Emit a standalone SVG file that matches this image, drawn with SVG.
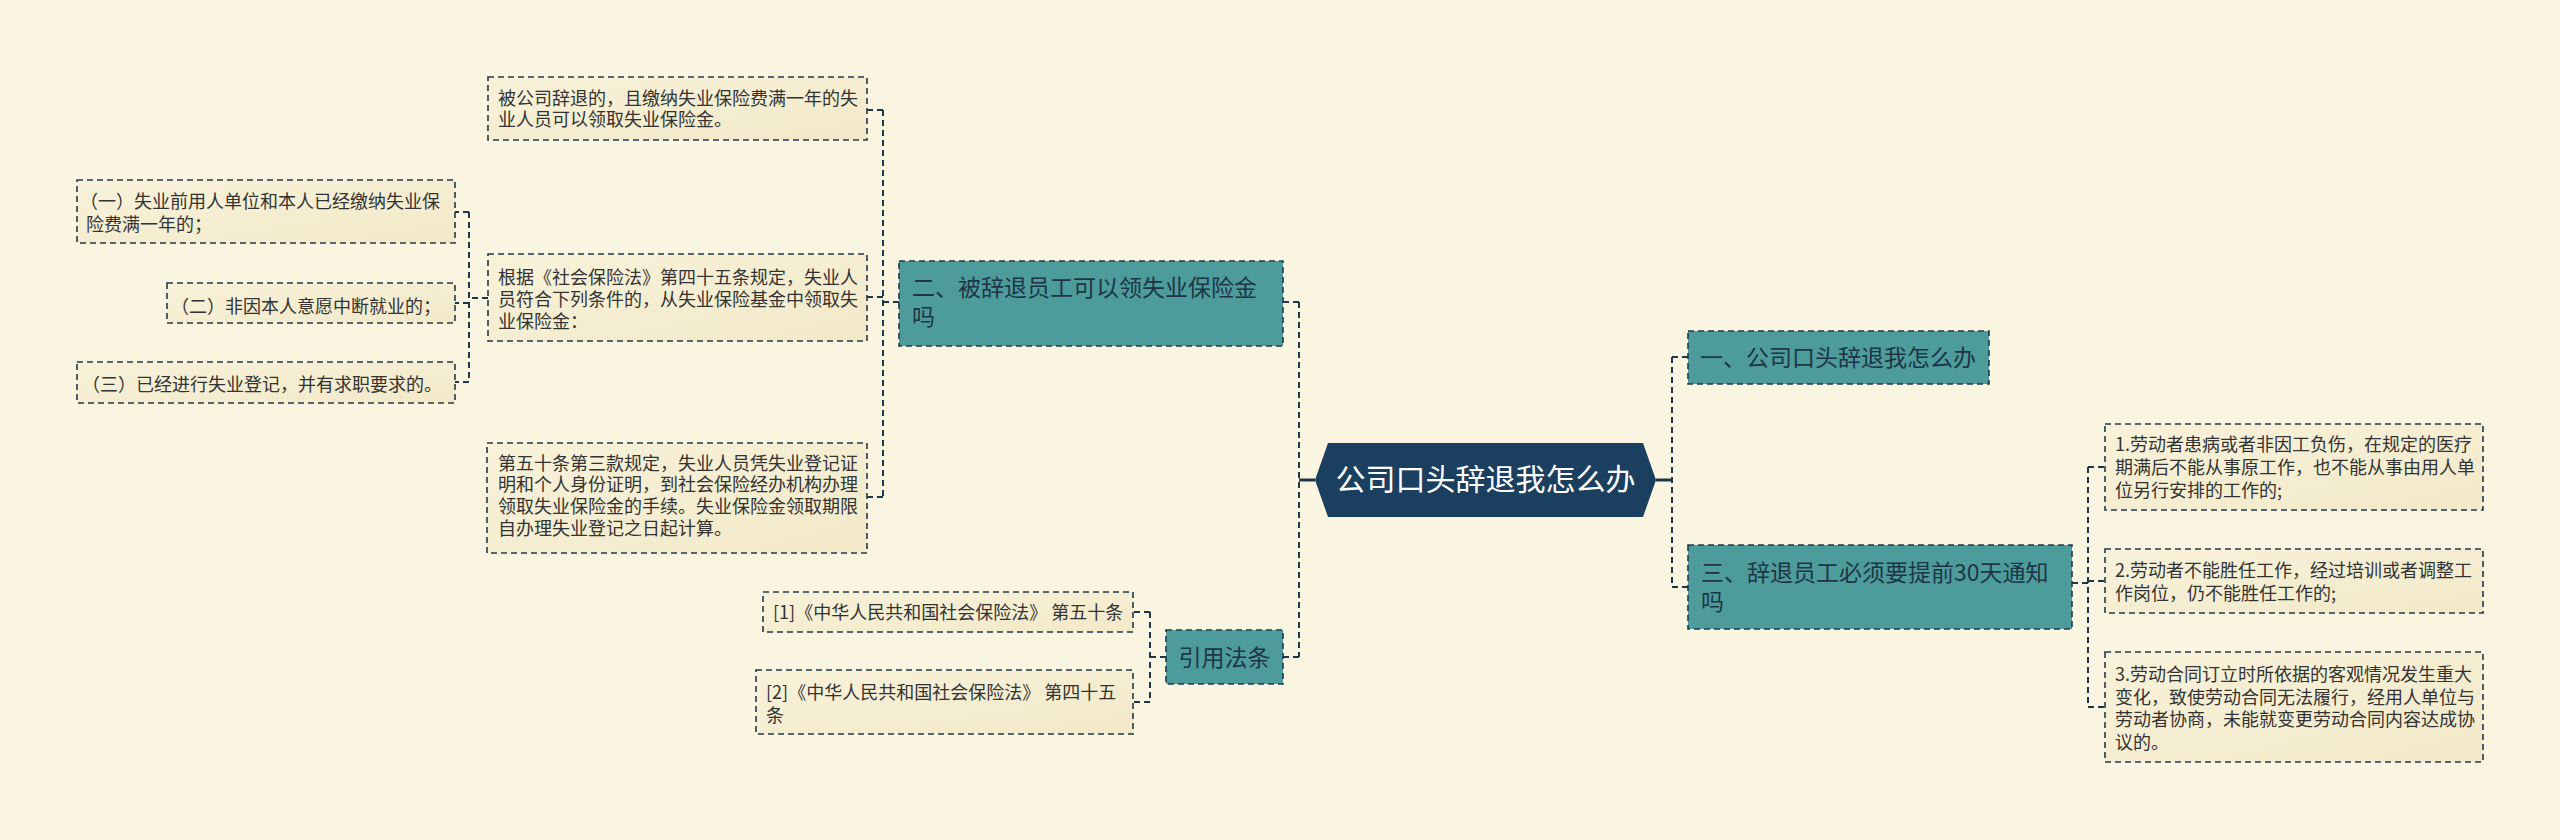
<svg xmlns="http://www.w3.org/2000/svg" width="2560" height="840" viewBox="0 0 2560 840">
<defs>
<linearGradient id="leafFill" x1="0" y1="0" x2="1" y2="1">
<stop offset="0" stop-color="#f8f2da"/>
<stop offset="1" stop-color="#f2e9c8"/>
</linearGradient>
<style>
.leaf{fill:url(#leafFill);stroke:#24384a;stroke-width:1.6;stroke-dasharray:6 4}
.topic{fill:#4d9b9b;stroke:#1f3a4d;stroke-width:1.6;stroke-dasharray:6 4}
.conn{fill:none;stroke:#1f3548;stroke-width:2;stroke-dasharray:6 4}
.solid{fill:none;stroke:#1f3548;stroke-width:3}
.lt{font-family:"Microsoft YaHei","Noto Sans CJK SC",sans-serif;font-size:18px;fill:#333}
.tt{font-family:"Microsoft YaHei","Noto Sans CJK SC",sans-serif;font-size:23px;fill:#1d3546}
.root{font-family:"Microsoft YaHei","Noto Sans CJK SC",sans-serif;font-size:30px;fill:#ffffff}
</style>
</defs>
<rect x="0" y="0" width="2560" height="840" fill="#faf5e1"/>

<g id="connectors">
<path class="solid" d="M1315,480 H1299"/>
<path class="conn" d="M1299,302 V657"/>
<path class="conn" d="M1283,302 H1299"/>
<path class="conn" d="M1283,657 H1299"/>
<path class="solid" d="M1656,480 H1672"/>
<path class="conn" d="M1672,357 V587"/>
<path class="conn" d="M1672,357 H1688"/>
<path class="conn" d="M1672,587 H1688"/>
<path class="conn" d="M899,302 H883"/>
<path class="conn" d="M883,110 V497"/>
<path class="conn" d="M883,110 H867"/>
<path class="conn" d="M883,297 H867"/>
<path class="conn" d="M883,497 H867"/>
<path class="conn" d="M488,298 H469"/>
<path class="conn" d="M469,212 V382"/>
<path class="conn" d="M469,212 H455"/>
<path class="conn" d="M469,303 H455"/>
<path class="conn" d="M469,382 H455"/>
<path class="conn" d="M1166,657 H1150"/>
<path class="conn" d="M1150,612 V702"/>
<path class="conn" d="M1150,612 H1133"/>
<path class="conn" d="M1150,702 H1133"/>
<path class="conn" d="M2072,583 H2088"/>
<path class="conn" d="M2088,467 V707"/>
<path class="conn" d="M2088,467 H2105"/>
<path class="conn" d="M2088,581 H2105"/>
<path class="conn" d="M2088,707 H2105"/>
</g>

<g id="root">
<polygon points="1315,480 1328,443 1643,443 1656,480 1643,517 1328,517" fill="#1b3f5f"/>
<text class="root" x="1485.5" y="490" text-anchor="middle">公司口头辞退我怎么办</text>
</g>

<g id="topic1">
<rect class="topic" x="1688" y="331" width="301" height="53"/>
<text class="tt" x="1700" y="366">一、公司口头辞退我怎么办</text>
</g>

<g id="topic3">
<rect class="topic" x="1688" y="545" width="384" height="84"/>
<text class="tt"><tspan x="1701" y="581">三、辞退员工必须要提前30天通知</tspan><tspan x="1701" y="610">吗</tspan></text>
</g>

<g id="topic2">
<rect class="topic" x="899" y="261" width="384" height="85"/>
<text class="tt"><tspan x="912" y="296">二、被辞退员工可以领失业保险金</tspan><tspan x="912" y="325">吗</tspan></text>
</g>

<g id="topicRef">
<rect class="topic" x="1166" y="630" width="117" height="54"/>
<text class="tt" x="1224.5" y="666" text-anchor="middle">引用法条</text>
</g>

<g id="leafA">
<rect class="leaf" x="488" y="77" width="379" height="63"/>
<text class="lt"><tspan x="498" y="105">被公司辞退的，且缴纳失业保险费满一年的失</tspan><tspan x="498" y="126">业人员可以领取失业保险金。</tspan></text>
</g>

<g id="leafB">
<rect class="leaf" x="488" y="254" width="379" height="87"/>
<text class="lt"><tspan x="498" y="284">根据《社会保险法》第四十五条规定，失业人</tspan><tspan x="498" y="306">员符合下列条件的，从失业保险基金中领取失</tspan><tspan x="498" y="328">业保险金：</tspan></text>
</g>

<g id="leafC">
<rect class="leaf" x="487" y="443" width="380" height="110"/>
<text class="lt"><tspan x="498" y="470">第五十条第三款规定，失业人员凭失业登记证</tspan><tspan x="498" y="491">明和个人身份证明，到社会保险经办机构办理</tspan><tspan x="498" y="513">领取失业保险金的手续。失业保险金领取期限</tspan><tspan x="498" y="535">自办理失业登记之日起计算。</tspan></text>
</g>

<g id="leafB1">
<rect class="leaf" x="77" y="180" width="378" height="63"/>
<text class="lt"><tspan x="80" y="208">（一）失业前用人单位和本人已经缴纳失业保</tspan><tspan x="86" y="231">险费满一年的；</tspan></text>
</g>

<g id="leafB2">
<rect class="leaf" x="167" y="283" width="288" height="40"/>
<text class="lt" x="171" y="313">（二）非因本人意愿中断就业的；</text>
</g>

<g id="leafB3">
<rect class="leaf" x="77" y="362" width="378" height="41"/>
<text class="lt" x="82" y="391">（三）已经进行失业登记，并有求职要求的。</text>
</g>

<g id="ref1">
<rect class="leaf" x="763" y="592" width="370" height="40"/>
<text class="lt" x="773" y="619">[1]《中华人民共和国社会保险法》 第五十条</text>
</g>

<g id="ref2">
<rect class="leaf" x="756" y="670" width="377" height="64"/>
<text class="lt"><tspan x="766" y="699">[2]《中华人民共和国社会保险法》 第四十五</tspan><tspan x="766" y="722">条</tspan></text>
</g>

<g id="leafR1">
<rect class="leaf" x="2105" y="424" width="378" height="86"/>
<text class="lt"><tspan x="2115" y="451">1.劳动者患病或者非因工负伤，在规定的医疗</tspan><tspan x="2115" y="474">期满后不能从事原工作，也不能从事由用人单</tspan><tspan x="2115" y="497">位另行安排的工作的;</tspan></text>
</g>

<g id="leafR2">
<rect class="leaf" x="2105" y="549" width="378" height="64"/>
<text class="lt"><tspan x="2115" y="577">2.劳动者不能胜任工作，经过培训或者调整工</tspan><tspan x="2115" y="600">作岗位，仍不能胜任工作的;</tspan></text>
</g>

<g id="leafR3">
<rect class="leaf" x="2105" y="652" width="378" height="110"/>
<text class="lt"><tspan x="2115" y="681">3.劳动合同订立时所依据的客观情况发生重大</tspan><tspan x="2115" y="704">变化，致使劳动合同无法履行，经用人单位与</tspan><tspan x="2115" y="726">劳动者协商，未能就变更劳动合同内容达成协</tspan><tspan x="2115" y="749">议的。</tspan></text>
</g>
</svg>
